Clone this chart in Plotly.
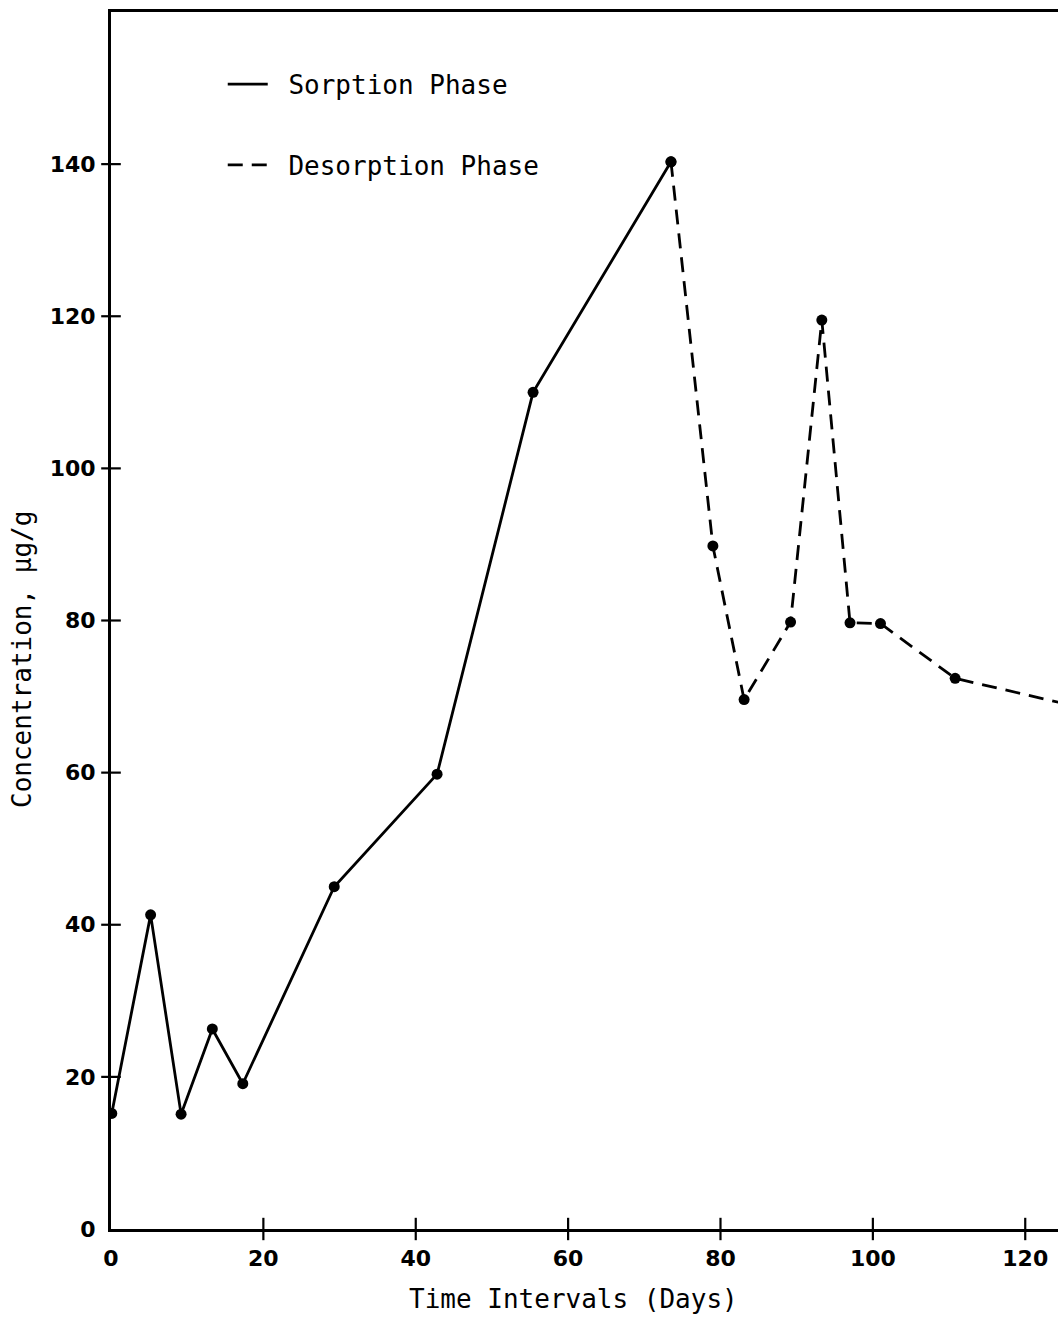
import plotly.graph_objects as go

# Data
sorption_days = [0.1, 5.2, 9.2, 13.3, 17.3, 29.3, 42.8, 55.4, 73.5]
sorption_conc = [15.2, 41.3, 15.1, 26.3, 19.1, 45.0, 59.8, 110.0, 140.3]
desorption_days = [73.5, 79.0, 83.1, 89.2, 93.3, 97.0, 101.0, 110.8, 125.0]
desorption_conc = [140.3, 89.8, 69.6, 79.8, 119.5, 79.7, 79.6, 72.4, 69.1]
x_ticks = [0, 20, 40, 60, 80, 100, 120]
y_ticks = [0, 20, 40, 60, 80, 100, 120, 140]

W, H = 1058, 1317
L, R, T, B = 111, 0, 12, 88
XR = [0, 124.3]
YR = [0, 160]

mono = "DejaVu Sans Mono"
tickfont = dict(family="DejaVu Sans", size=22, color="black", weight="bold")
NB = "\u00a0"

fig = go.Figure()
fig.add_trace(go.Scatter(x=sorption_days, y=sorption_conc, mode="lines",
                         line=dict(color="black", width=2.8),
                         name=NB + "Sorption Phase", legendgroup="a"))
fig.add_trace(go.Scatter(x=desorption_days, y=desorption_conc, mode="lines",
                         line=dict(color="black", width=2.8, dash="15px,9px"),
                         name=NB + "Desorption Phase", legendgroup="b"))
fig.add_trace(go.Scatter(x=sorption_days + desorption_days, y=sorption_conc + desorption_conc,
                         mode="markers", marker=dict(color="black", size=11),
                         showlegend=False))
# tick marks crossing the axes (drawn at the tick values)
fig.add_trace(go.Scatter(x=[0] * (len(y_ticks) - 1), y=y_ticks[1:], mode="markers",
                         marker=dict(symbol="line-ew-open", size=14, color="black",
                                     line=dict(color="black", width=2.2)),
                         cliponaxis=False, showlegend=False, hoverinfo="skip"))
fig.add_trace(go.Scatter(x=x_ticks[1:], y=[0] * (len(x_ticks) - 1), mode="markers",
                         marker=dict(symbol="line-ns-open", size=16, color="black",
                                     line=dict(color="black", width=2.2)),
                         cliponaxis=False, showlegend=False, hoverinfo="skip"))

fig.update_layout(
    width=W, height=H,
    margin=dict(l=L, r=R, t=T, b=B),
    paper_bgcolor="white", plot_bgcolor="white",
    showlegend=True,
    legend=dict(x=0.118, y=0.960, xanchor="left", yanchor="top",
                font=dict(family=mono, size=26, color="black"),
                tracegroupgap=44, bgcolor="rgba(0,0,0,0)",
                itemwidth=40),
    xaxis=dict(range=XR, tickvals=x_ticks, ticktext=[str(v) for v in x_ticks],
               showgrid=False, zeroline=False, showline=True, linecolor="black",
               linewidth=3, mirror=True, ticks="outside", ticklen=8, tickwidth=2,
               tickcolor="rgba(0,0,0,0)", tickfont=tickfont),
    yaxis=dict(range=YR, tickvals=y_ticks, ticktext=[str(v) for v in y_ticks],
               showgrid=False, zeroline=False, showline=True, linecolor="black",
               linewidth=3, ticks="outside", ticklen=8, tickwidth=2,
               tickcolor="rgba(0,0,0,0)", tickfont=tickfont),
    annotations=[
        dict(text="Time Intervals (Days)", xref="paper", yref="paper",
             x=(573 - L) / (W - L - R), y=-(1299 - (H - B)) / (H - T - B),
             xanchor="center", yanchor="middle", showarrow=False,
             font=dict(family=mono, size=26, color="black")),
        dict(text="Concentration, µg/g", xref="paper", yref="paper",
             x=-(L - 22) / (W - L - R), y=((H - B) - 660) / (H - T - B),
             xanchor="center", yanchor="middle", textangle=-90, showarrow=False,
             font=dict(family=mono, size=26, color="black")),
    ],
)

fig.write_html("out.html")
